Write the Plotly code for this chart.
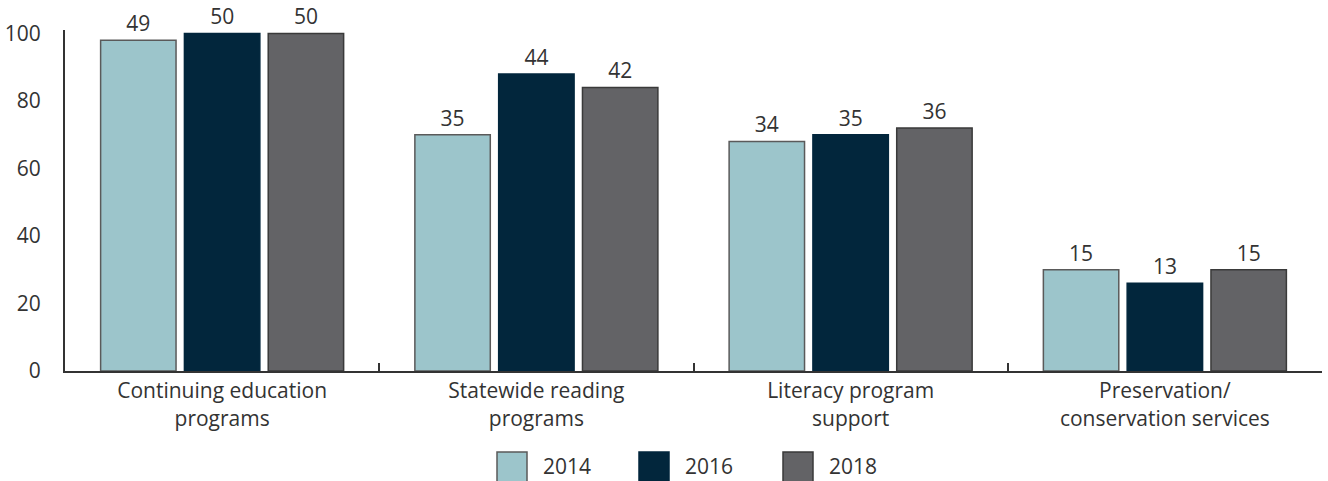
import plotly.graph_objects as go

# Services offered by state library agencies (number of states; bar height = share of 50 states)
categories = ["Continuing education<br>programs", "Statewide reading<br>programs",
              "Literacy program<br>support", "Preservation/<br>conservation services"]
years = ["2014", "2016", "2018"]
counts_2014 = [49, 35, 34, 15]
counts_2016 = [50, 44, 35, 13]
counts_2018 = [50, 42, 36, 15]
total_states = 50

colors = ["#9CC5CB", "#02263C", "#636366"]
outlines = ["#5a5a5a", "#02263C", "#3a3a3a"]
font_family = "'Open Sans', 'Noto Sans', sans-serif"
text_color = "#333333"
fs = 21

fig = go.Figure()
for year, counts, color, outline in zip(years, [counts_2014, counts_2016, counts_2018], colors, outlines):
    pct = [c / total_states * 100 for c in counts]
    fig.add_trace(go.Bar(
        x=categories, y=pct, name=year,
        marker=dict(color=color, line=dict(color=outline, width=1.5)),
        text=[str(c) for c in counts], textposition="outside",
        textfont=dict(size=fs, color=text_color, family=font_family),
        cliponaxis=False, showlegend=False,
    ))

# Legend built from swatches and labels
legend_x = [497, 639, 783]
W, H = 1328, 481
ml, mr, mt, mb = 65, 6, 30, 110
for x0, year, color, outline in zip(legend_x, years, colors, outlines):
    fig.add_shape(type="rect", xref="paper", yref="paper",
                  x0=(x0 - ml) / (W - ml - mr), x1=(x0 + 30 - ml) / (W - ml - mr),
                  y0=(H - mb - 452) / (H - mt - mb), y1=(H - mb - 482) / (H - mt - mb),
                  fillcolor=color, line=dict(color=outline, width=1.5))
    fig.add_annotation(xref="paper", yref="paper",
                       x=(x0 + 44 - ml) / (W - ml - mr), y=(H - mb - 466) / (H - mt - mb),
                       text=year, showarrow=False, xanchor="left", yanchor="middle",
                       font=dict(size=fs, color=text_color, family=font_family))

fig.update_layout(
    width=W, height=H,
    margin=dict(l=ml, r=mr, t=mt, b=mb),
    paper_bgcolor="white", plot_bgcolor="white",
    barmode="group", bargap=0.2, bargroupgap=0.1,
    font=dict(family=font_family, size=fs, color=text_color),
)
fig.update_xaxes(
    showline=True, linecolor="#333333", linewidth=2,
    ticks="inside", tickson="boundaries", ticklen=8, tickcolor="#333333", tickwidth=2,
    tickfont=dict(size=fs, color=text_color, family=font_family),
    showgrid=False,
)
fig.update_yaxes(
    range=[0, 101], tickvals=[0, 20, 40, 60, 80, 100],
    showline=True, linecolor="#333333", linewidth=2,
    ticks="", ticklabelstandoff=18, showgrid=False, zeroline=False,
    tickfont=dict(size=fs, color=text_color, family=font_family),
)

fig.write_html("out.html")
